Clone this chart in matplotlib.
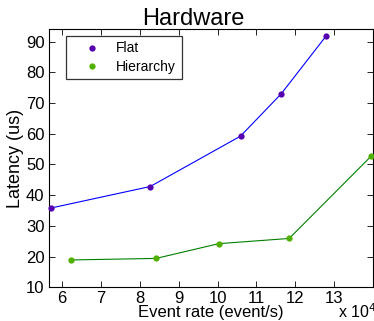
import matplotlib
matplotlib.use("Agg")
import matplotlib.pyplot as plt

plt.rcParams["font.family"] = ["Liberation Sans", "DejaVu Sans"]

# Event rate in units of 10^4 events/s
flat_rate = [5.72, 8.27, 10.59, 11.63, 12.79]
flat_latency = [35.8, 42.8, 59.2, 72.9, 91.8]
hier_rate = [6.24, 8.42, 10.03, 11.84, 13.94]
hier_latency = [18.9, 19.4, 24.2, 25.9, 52.6]
x_ticks = [6, 7, 8, 9, 10, 11, 12, 13]
y_ticks = [10, 20, 30, 40, 50, 60, 70, 80, 90]

fig = plt.figure(figsize=(3.74, 3.21), dpi=100)
ax = fig.add_axes([0.13, 0.105, 0.868, 0.804])

ax.plot(flat_rate, flat_latency, color="#0000ff", linewidth=0.8, zorder=2)
ax.plot(hier_rate, hier_latency, color="#008000", linewidth=0.8, zorder=2)
ax.plot(flat_rate, flat_latency, "o", color="#5500b0", markersize=4.5,
        markeredgewidth=0, label="Flat", zorder=3, clip_on=False)
ax.plot(hier_rate, hier_latency, "o", color="#50b000", markersize=4.5,
        markeredgewidth=0, label="Hierarchy", zorder=3, clip_on=False)

ax.set_xlim(5.66, 14.0)
ax.set_ylim(10, 94)
ax.set_xticks(x_ticks)
ax.set_yticks(y_ticks)
ax.tick_params(direction="in", top=True, right=True, length=4, width=0.6,
               labelsize=12, pad=3)
for s in ax.spines.values():
    s.set_linewidth(0.8)

ax.set_title("Hardware", fontsize=17, x=0.445, pad=3)
ax.set_xlabel("Event rate (event/s)", fontsize=12, labelpad=-1)
ax.set_ylabel("Latency (us)", fontsize=13, labelpad=1)
fig.text(338 / 374, (321 - 317.5) / 321, r"x 10$^4$", fontsize=11.5,
         ha="left", va="baseline")

leg = ax.legend(loc="upper left", bbox_to_anchor=(0.054, 0.974), fontsize=10,
                frameon=True, fancybox=False, handletextpad=0.3,
                borderpad=0.4, labelspacing=0.3, handlelength=2.9,
                borderaxespad=0)
leg.get_frame().set_edgecolor("black")
leg.get_frame().set_linewidth(0.9)

fig.savefig("out.png", dpi=100)
